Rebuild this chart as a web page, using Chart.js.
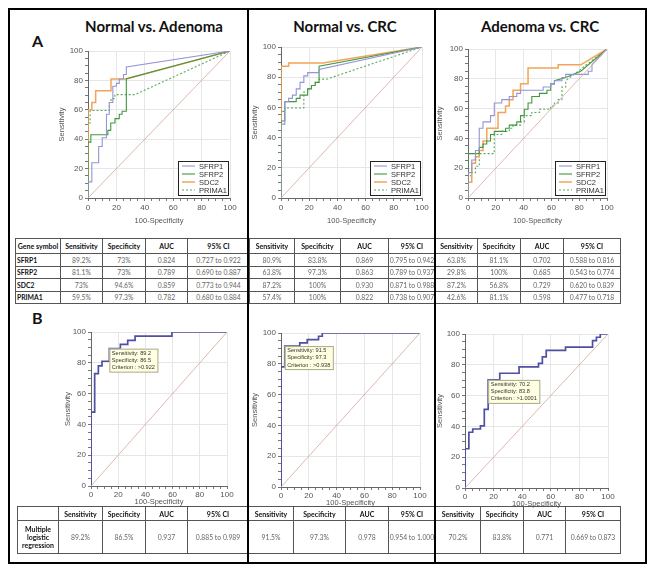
<!DOCTYPE html>
<html>
<head>
<meta charset="utf-8">
<script src="https://cdn.jsdelivr.net/npm/chart.js@4.4.0/dist/chart.umd.min.js"></script>
<style>
  body { margin: 0; background: #fff; width: 654px; height: 571px; position: relative; overflow: hidden; font-family: Lato, "Liberation Sans", sans-serif; }
  .frame { position: absolute; left: 8px; top: 8px; width: 639px; height: 556px; border: 2.5px solid #000; box-sizing: border-box; }
  .div { position: absolute; top: 8px; width: 2px; height: 556px; background: #000; }
  .title { position: absolute; width: 220px; text-align: center; font-weight: bold; font-size: 15px; color: #111; }
  .lab { position: absolute; font-weight: bold; font-size: 16px; color: #111; }
  .plot { position: absolute; }
  table { position: absolute; border-collapse: collapse; table-layout: fixed; }
  td { border: 1px solid #555; padding: 0; text-align: center; font-size: 6.8px; color: #666; overflow: hidden; white-space: nowrap; }
  td.h { font-weight: bold; color: #111; font-size: 7px; }
  td.g { font-weight: bold; color: #111; text-align: left; padding-left: 1px; }
</style>
</head>
<body>
<div class="frame"></div>
<div class="title" style="left:44px;top:17px">Normal vs. Adenoma</div>
<div class="title" style="left:235px;top:17px">Normal vs. CRC</div>
<div class="title" style="left:430px;top:17px">Adenoma vs. CRC</div>
<div class="lab" style="left:32px;top:31px">A</div>
<div class="lab" style="left:32px;top:308px">B</div>

<div class="plot" id="w1"><canvas id="c1"></canvas></div>
<div class="plot" id="w2"><canvas id="c2"></canvas></div>
<div class="plot" id="w3"><canvas id="c3"></canvas></div>
<div class="plot" id="w4"><canvas id="c4"></canvas></div>
<div class="plot" id="w5"><canvas id="c5"></canvas></div>
<div class="plot" id="w6"><canvas id="c6"></canvas></div>

<table id="tabA" style="left:15px;top:238px"></table>
<table id="tabB" style="left:17px;top:506px"></table>

<div class="div" style="left:247px"></div>
<div class="div" style="left:434px"></div>

<script>
// ROC points: [100-Specificity, Sensitivity]
// A: Normal vs. Adenoma
var nvaSFRP1 = [[0,0],[0,11],[2.7,11],[2.7,24],[7.5,24],[7.5,35],[10,35],[10,41],[13,41],[13,57],[15,57],[15,65],[17.5,65],[17.5,76],[20,76],[20,78],[22,78],[22,81],[25,81],[25,84],[27,84],[27,89.2],[100,100]];
var nvaSFRP2 = [[0,0],[0,38],[2,38],[2,43],[14,43],[14,46],[16,46],[16,51],[19,51],[19,54],[22,54],[22,57],[24,57],[24,59],[27,59],[27,81.1],[100,100]];
var nvaSDC2 = [[0,0],[0,60],[2.7,60],[2.7,65],[5.4,65],[5.4,73],[16.2,73],[16.2,81],[27,81],[100,100]];
var nvaPRIMA1 = [[0,0],[0,51],[1.5,51],[1.5,59.5],[15,59.5],[15,65],[16.2,65],[16.2,67.6],[18.9,67.6],[18.9,70.3],[33,70.3],[100,100]];

// A: Normal vs. CRC
var nvcSFRP1 = [[0,0],[0,48.9],[2.7,48.9],[2.7,63.8],[5.4,63.8],[5.4,66],[8.1,66],[8.1,68.1],[10.8,68.1],[10.8,72.3],[13.5,72.3],[13.5,76.6],[16.2,76.6],[16.2,80.9],[18.9,80.9],[18.9,83],[27,83],[27,85.1],[100,100]];
var nvcSFRP2 = [[0,0],[0,51],[2.7,51],[2.7,63.8],[10.8,63.8],[10.8,66],[13.5,66],[13.5,68.1],[18.9,68.1],[18.9,72.3],[21.6,72.3],[21.6,74.5],[24.3,74.5],[24.3,76.6],[27,76.6],[27,87.2],[100,100]];
var nvcSDC2 = [[0,0],[0,87.2],[5.4,87.2],[5.4,89.4],[29.7,89.4],[100,100]];
var nvcPRIMA1 = [[0,0],[0,57.4],[2.7,57.4],[2.7,59.6],[16.2,59.6],[16.2,70.2],[18.9,70.2],[18.9,72.3],[21.6,72.3],[21.6,74.5],[24.3,74.5],[24.3,76.6],[27,76.6],[27,78.7],[32.4,78.7],[100,100]];

// A: Adenoma vs. CRC
var avcSFRP1 = [[0,0],[0,17],[2.7,17],[2.7,25.5],[5.4,25.5],[5.4,31.9],[8.1,31.9],[8.1,46.8],[10.8,46.8],[10.8,51.1],[16.2,51.1],[16.2,55.3],[18.9,55.3],[18.9,63.8],[24.3,63.8],[24.3,66],[29.7,66],[29.7,68.1],[35.1,68.1],[35.1,70.2],[37.8,70.2],[37.8,72.3],[54.1,72.3],[54.1,74.5],[59.5,74.5],[59.5,76.6],[62.2,76.6],[62.2,78.7],[67.6,78.7],[67.6,80.9],[70.3,80.9],[70.3,83],[86.5,83],[86.5,85.1],[89.2,85.1],[89.2,89.4],[100,100]];
var avcSFRP2 = [[0,0],[0,29.8],[8.1,29.8],[8.1,34],[10.8,34],[10.8,36.2],[13.5,36.2],[13.5,38.3],[16.2,38.3],[16.2,42.6],[18.9,42.6],[18.9,44.7],[27,44.7],[27,46.8],[29.7,46.8],[29.7,48.9],[35.1,48.9],[35.1,51.1],[37.8,51.1],[37.8,55.3],[40.5,55.3],[40.5,59.6],[43.2,59.6],[43.2,63.8],[45.9,63.8],[45.9,68.1],[51.4,68.1],[51.4,70.2],[56.8,70.2],[56.8,72.3],[59.5,72.3],[59.5,76.6],[62.2,76.6],[62.2,78.7],[70.3,80.9],[81.1,85.1],[100,100]];
var avcSDC2 = [[0,0],[0,10.6],[2.7,10.6],[2.7,23.4],[5.4,23.4],[5.4,27.7],[8.1,27.7],[8.1,31.9],[10.8,31.9],[10.8,38.3],[13.5,38.3],[13.5,46.8],[21.6,46.8],[21.6,57.4],[27,57.4],[27,61.7],[29.7,61.7],[29.7,66],[32.4,66],[32.4,72.3],[37.8,72.3],[37.8,76.6],[43.2,76.6],[43.2,87.2],[64.9,87.2],[64.9,89.4],[81.1,89.4],[100,100]];
var avcPRIMA1 = [[0,0],[0,14.9],[2.7,14.9],[2.7,17],[5.4,17],[5.4,21.3],[8.1,21.3],[8.1,29.8],[18.9,29.8],[18.9,42.6],[24.3,42.6],[24.3,44.7],[29.7,44.7],[29.7,46.8],[32.4,46.8],[32.4,48.9],[37.8,48.9],[37.8,51.1],[40.5,51.1],[40.5,55.3],[45.9,55.3],[45.9,57.4],[51.4,57.4],[51.4,59.6],[59.5,59.6],[59.5,61.7],[62.2,61.7],[62.2,63.8],[64.9,63.8],[64.9,66],[67.6,66],[67.6,74.5],[70.3,74.5],[70.3,78.7],[100,100]];

// B: multiple logistic regression
var mlrNvA = [[0,0],[0,48],[2.7,48],[2.7,73],[5.4,73],[5.4,78],[8.1,78],[8.1,81],[13.5,81],[13.5,89.2],[21.6,89.2],[21.6,91.9],[27,91.9],[27,94.6],[32.4,94.6],[32.4,97.3],[59.5,97.3],[59.5,100],[100,100]];
var mlrNvC = [[0,0],[0,78],[2.7,78],[2.7,91.5],[13.5,91.5],[13.5,93.6],[18.9,93.6],[18.9,95.7],[27,95.7],[27,97.9],[29.7,97.9],[29.7,100],[100,100]];
var mlrAvC = [[0,0],[0,25.5],[2.7,25.5],[2.7,36.2],[5.4,36.2],[5.4,38.3],[10.8,38.3],[10.8,40.4],[13.5,40.4],[13.5,51.1],[16.2,51.1],[16.2,57.4],[16.2,70.2],[24.3,70.2],[24.3,74.5],[37.8,74.5],[37.8,78.7],[51.4,78.7],[51.4,80.9],[54.1,80.9],[54.1,85.1],[56.8,85.1],[56.8,89.4],[70.3,89.4],[70.3,91.5],[89.2,91.5],[89.2,95.7],[91.9,95.7],[91.9,97.9],[94.6,97.9],[94.6,100],[100,100]];
var diag = [[0,0],[100,100]];

// criterion points (100-spec, sens) and labels
var critNvA = [13.5, 89.2], critNvATxt = ['Sensitivity: 89.2', 'Specificity: 86.5', 'Criterion : >0.922'];
var critNvC = [2.7, 91.5], critNvCTxt = ['Sensitivity: 91.5', 'Specificity: 97.3', 'Criterion : >0.938'];
var critAvC = [16.2, 70.2], critAvCTxt = ['Sensitivity: 70.2', 'Specificity: 83.8', 'Criterion : >1.0001'];

// tables
var genes = ['SFRP1', 'SFRP2', 'SDC2', 'PRIMA1'];
var statHeads = ['Sensitivity', 'Specificity', 'AUC', '95% CI'];
var statsNvA = [['89.2%','73%','0.824','0.727 to 0.922'],['81.1%','73%','0.789','0.690 to 0.887'],['73%','94.6%','0.859','0.773 to 0.944'],['59.5%','97.3%','0.782','0.680 to 0.884']];
var statsNvC = [['80.9%','83.8%','0.869','0.795 to 0.942'],['63.8%','97.3%','0.863','0.789 to 0.937'],['87.2%','100%','0.930','0.871 to 0.988'],['57.4%','100%','0.822','0.738 to 0.907']];
var statsAvC = [['63.8%','81.1%','0.702','0.588 to 0.816'],['29.8%','100%','0.685','0.543 to 0.774'],['87.2%','56.8%','0.729','0.620 to 0.839'],['42.6%','81.1%','0.598','0.477 to 0.718']];
var mlrStats = [['89.2%','86.5%','0.937','0.885 to 0.989'],['91.5%','97.3%','0.978','0.954 to 1.000'],['70.2%','83.8%','0.771','0.669 to 0.873']];

// legend box inside the plot (bottom right)
var rocLegend = {
    id: 'rocLegend',
    afterDatasetsDraw: function (chart, args, opts) {
        if (!opts.show) return;
        var ctx = chart.ctx, a = chart.chartArea;
        var items = chart.data.datasets.filter(function (d) { return d.label; });
        var w = 50, h = 34, x = a.right - 2 - w, y = a.bottom - 3 - h;
        ctx.save();
        ctx.fillStyle = '#fff';
        ctx.fillRect(x, y, w, h);
        ctx.strokeStyle = '#222';
        ctx.lineWidth = 1;
        ctx.strokeRect(x + 0.5, y + 0.5, w, h);
        ctx.font = '7.5px "Liberation Sans"';
        ctx.textBaseline = 'middle';
        items.forEach(function (d, i) {
            var cy = y + 5 + i * 8;
            ctx.strokeStyle = d.borderColor;
            ctx.lineWidth = d.borderWidth;
            ctx.setLineDash(d.borderDash || []);
            ctx.beginPath();
            ctx.moveTo(x + 4, cy);
            ctx.lineTo(x + 17, cy);
            ctx.stroke();
            ctx.setLineDash([]);
            ctx.fillStyle = '#333';
            ctx.fillText(d.label, x + 21, cy + 0.5);
        });
        ctx.restore();
    }
};

// yellow criterion box, top-left corner at the criterion point
var criterionBox = {
    id: 'criterionBox',
    afterDatasetsDraw: function (chart, args, opts) {
        if (!opts.at) return;
        var ctx = chart.ctx;
        var px = chart.scales.x.getPixelForValue(opts.at[0]);
        var py = chart.scales.y.getPixelForValue(opts.at[1]);
        ctx.save();
        ctx.font = '5.6px "Liberation Sans"';
        var w = 0;
        opts.lines.forEach(function (t) { w = Math.max(w, ctx.measureText(t).width); });
        w += 5;
        var h = 23;
        ctx.fillStyle = '#ffffe1';
        ctx.fillRect(px, py, w, h);
        ctx.strokeStyle = '#a8a888';
        ctx.lineWidth = 1;
        ctx.strokeRect(px + 0.5, py + 0.5, w, h);
        ctx.fillStyle = '#333';
        ctx.textBaseline = 'middle';
        opts.lines.forEach(function (t, i) {
            ctx.fillText(t, px + 2.5, py + 4.5 + i * 7.2);
        });
        ctx.restore();
    }
};

function line(label, data, color, width, dash) {
    return { label: label, data: data, borderColor: color, borderWidth: width, borderDash: dash || [],
             showLine: true, pointRadius: 0, fill: false };
}

// lay: yW = y axis width, yGap = area left to y title centre, xH = x axis height, tp = tick padding
function axis(title, isY, lay) {
    return {
        type: 'linear', min: 0, max: 100,
        afterFit: function (s) { if (isY) s.width = lay.yW; else s.height = lay.xH; },
        border: { color: '#666' },
        grid: {
            color: function (c) { return c.tick && c.tick.value % 20 === 0 && c.tick.value > 0 ? '#e6e6e6' : 'rgba(0,0,0,0)'; },
            tickColor: '#777', tickLength: 3
        },
        ticks: {
            stepSize: 5, autoSkip: false, maxRotation: 0, padding: isY ? 2 : lay.tp, color: '#555',
            font: { size: 8, family: 'Liberation Sans' },
            callback: function (v) { return v % 20 === 0 ? v : ''; }
        },
        title: { display: true, text: title, color: '#555', font: { size: 7.5, family: 'Liberation Sans' },
                 padding: isY ? { top: lay.yW - lay.yGap - 4.5, bottom: 0 } : { top: 0, bottom: lay.xPad } }
    };
}

function rocChart(n, area, lay, datasets, plug) {
    var w = document.getElementById('w' + n);
    w.style.left = (area[0] - lay.yW) + 'px';
    w.style.top = (area[1] - 10) + 'px';
    w.style.width = (area[2] - area[0] + lay.yW + 12) + 'px';
    w.style.height = (area[3] - area[1] + 10 + lay.xH) + 'px';
    return new Chart(document.getElementById('c' + n), {
        type: 'scatter',
        data: { datasets: datasets },
        options: {
            animation: false, responsive: true, maintainAspectRatio: false,
            layout: { padding: { top: 10, right: 12, left: 0, bottom: 0 } },
            plugins: { legend: { display: false }, tooltip: { enabled: false },
                       rocLegend: { show: plug.legend }, criterionBox: { at: plug.at, lines: plug.lines } },
            scales: { x: axis('100-Specificity', false, lay), y: axis('Sensitivity', true, lay) }
        },
        plugins: [rocLegend, criterionBox]
    });
}

var cP1 = '#9494d8', cP2 = '#3f993f', cSD = '#f2a458', cPR = '#5aa85a', cDiag = '#d6a49c', cMLR = '#4f4fa3';

function geneSets(a, b, c, d) {
    return [
        line('', diag, cDiag, 0.8),
        line('SFRP1', a, cP1, 1.1),
        line('SFRP2', b, cP2, 1.1),
        line('SDC2', c, cSD, 1.5),
        line('PRIMA1', d, cPR, 1.1, [2, 2])
    ];
}

rocChart(1, [88, 51, 230, 198], { yW: 40, yGap: 26, xH: 30, tp: 2, xPad: 3 },
         geneSets(nvaSFRP1, nvaSFRP2, nvaSDC2, nvaPRIMA1), { legend: true });
rocChart(2, [281, 47, 422, 198], { yW: 40, yGap: 26, xH: 30, tp: 2, xPad: 3 },
         geneSets(nvcSFRP1, nvcSFRP2, nvcSDC2, nvcPRIMA1), { legend: true });
rocChart(3, [468, 49, 607, 198], { yW: 40, yGap: 28, xH: 30, tp: 2, xPad: 3 },
         geneSets(avcSFRP1, avcSFRP2, avcSDC2, avcPRIMA1), { legend: true });
rocChart(4, [91, 332, 227, 486], { yW: 40, yGap: 23, xH: 23, tp: 1, xPad: 2.5 },
         [line('', diag, cDiag, 0.8), line('', mlrNvA, cMLR, 1.7)], { at: critNvA, lines: critNvATxt });
rocChart(5, [281, 333, 420, 487], { yW: 40, yGap: 26, xH: 23, tp: 1, xPad: 2.5 },
         [line('', diag, cDiag, 0.8), line('', mlrNvC, cMLR, 1.7)], { at: critNvC, lines: critNvCTxt });
rocChart(6, [465, 334, 608, 488], { yW: 40, yGap: 25, xH: 23, tp: 1, xPad: 2.5 },
         [line('', diag, cDiag, 0.8), line('', mlrAvC, cMLR, 1.7)], { at: critAvC, lines: critAvCTxt });

// tables
function buildTable(id, widths, firstHead, rowLabels, groups, headH, rowH) {
    var t = document.getElementById(id);
    var html = '<colgroup>' + widths.map(function (w) { return '<col style="width:' + w + 'px">'; }).join('') + '</colgroup>';
    html += '<tr style="height:' + headH + 'px"><td class="h">' + firstHead + '</td>';
    groups.forEach(function () { statHeads.forEach(function (h) { html += '<td class="h">' + h + '</td>'; }); });
    html += '</tr>';
    rowLabels.forEach(function (lab, r) {
        html += '<tr style="height:' + rowH + 'px"><td class="' + (firstHead ? 'g' : 'h') + '">' + lab + '</td>';
        groups.forEach(function (g) { g[r].forEach(function (v) { html += '<td>' + v + '</td>'; }); });
        html += '</tr>';
    });
    t.innerHTML = html;
    t.style.width = widths.reduce(function (s, w) { return s + w; }, 0) + 'px';
}

buildTable('tabA', [45,42,43,42,62,45,46,48,47,42,43,43,57], 'Gene symbol', genes,
           [statsNvA, statsNvC, statsAvC], 15, 12.5);
buildTable('tabB', [41,44,43,42,61,45,52,43,47,45,43,42,55], '', ['Multiple<br>logistic<br>regression'],
           [[mlrStats[0]], [mlrStats[1]], [mlrStats[2]]], 14, 33);
</script>
</body>
</html>
